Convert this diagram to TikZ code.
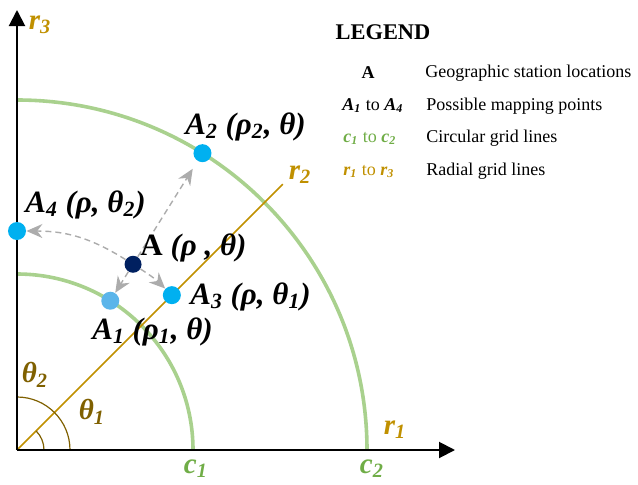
\documentclass[tikz,border=0pt]{standalone}
\usepackage{fontspec}
\setmainfont{Liberation Serif}
\usetikzlibrary{arrows.meta}
\definecolor{gridgreen}{HTML}{A9D18E}
\definecolor{labgreen}{HTML}{70AD47}
\definecolor{radgold}{HTML}{C09000}
\definecolor{anggold}{HTML}{7F6000}
\definecolor{ptblue}{HTML}{00B0F0}
\definecolor{ptlight}{HTML}{5BB5EA}
\definecolor{ptnavy}{HTML}{002060}
\newcommand{\bi}[1]{{\bfseries\itshape #1}}

\begin{document}
\begin{tikzpicture}[x=0.5pt,y=0.5pt,font=\fontsize{14.5}{16}\selectfont\bfseries\itshape,
  pt/.style={circle,inner sep=0pt,minimum size=9pt},
  map/.style={draw=gray!65,line width=0.7pt,dash pattern=on 3pt off 2pt,-{Stealth[length=8pt,width=7pt]}},
  ptlab/.style={anchor=west,inner sep=0pt,font=\fontsize{15.5}{17}\selectfont\bfseries\itshape},
  legkey/.style={font=\fontsize{9}{11}\selectfont,anchor=west,inner sep=0pt},
  legtxt/.style={font=\fontsize{9}{11}\selectfont,anchor=west,inner sep=0pt}]
\useasboundingbox (-17,-34) rectangle (621,450);
% axes and grid
\draw[gridgreen,line width=1.8pt] (176,0) arc[start angle=0,end angle=90,radius=176];
\draw[gridgreen,line width=1.8pt] (350,0) arc[start angle=0,end angle=90,radius=350];
\draw[radgold,line width=0.8pt] (0,0) -- (45:376);
\draw[anggold,line width=0.6pt] (27,0) arc[start angle=0,end angle=45,radius=27];
\draw[anggold,line width=0.6pt] (53,0) arc[start angle=0,end angle=90,radius=53];
\draw[line width=1pt,-{Triangle[length=8pt,width=8pt]}] (0,0) -- (438,0);
\draw[line width=1pt,-{Triangle[length=8pt,width=8pt]}] (0,0) -- (0,440);
% points
\node[pt,fill=ptlight] (A1) at (58:176) {};
\node[pt,fill=ptblue] (A2) at (58:350) {};
\node[pt,fill=ptblue] (A3) at (45:219) {};
\node[pt,fill=ptblue] (A4) at (90:219) {};
\node[pt,fill=ptnavy,minimum size=8.5pt] (A) at (58:219) {};
\draw[map] (A) -- (A1);
\draw[map,shorten >=4.5pt] (A) -- (A2);
\draw[map] (A) to[bend left=6] (A3);
\draw[map] (A) to[bend right=16] (A4);
% labels
\node[ptlab] (lA) at (123,202) {{\upshape A} (ρ , θ)};
\node[ptlab] (lA1) at (75,118) {A\textsubscript{1} (ρ\textsubscript{1}, θ)};
\node[ptlab] (lA2) at (168,323) {A\textsubscript{2} (ρ\textsubscript{2}, θ)};
\node[ptlab] (lA3) at (173,153) {A\textsubscript{3} (ρ, θ\textsubscript{1})};
\node[ptlab] (lA4) at (8,245) {A\textsubscript{4} (ρ, θ\textsubscript{2})};
\node[radgold] (r1) at (378,20) {r\textsubscript{1}};
\node[radgold] (r2) at (283,275) {r\textsubscript{2}};
\node[radgold] (r3) at (23,425) {r\textsubscript{3}};
\node[labgreen] (c1) at (179,-19) {c\textsubscript{1}};
\node[labgreen] (c2) at (355,-19) {c\textsubscript{2}};
\node[anggold] (t1) at (75,38) {θ\textsubscript{1}};
\node[anggold] (t2) at (18,75) {θ\textsubscript{2}};
% legend
\node[font=\fontsize{11.2}{13}\selectfont\bfseries] (leg) at (366,418) {LEGEND};
\node[legkey,anchor=center] (k1) at (351,377) {\bfseries A};
\node[legkey] (k2) at (325,344) {\bi{A\textsubscript{1}} to \bi{A\textsubscript{4}}};
\node[legkey,labgreen] (k3) at (326,312) {\bi{c\textsubscript{1}} to \bi{c\textsubscript{2}}};
\node[legkey,radgold] (k4) at (326,279) {\bi{r\textsubscript{1}} to \bi{r\textsubscript{3}}};
\node[legtxt] (d1) at (408,377) {Geographic station locations};
\node[legtxt] (d2) at (409,344) {Possible mapping points};
\node[legtxt] (d3) at (409,312) {Circular grid lines};
\node[legtxt] (d4) at (409,279) {Radial grid lines};
\end{tikzpicture}
\end{document}
